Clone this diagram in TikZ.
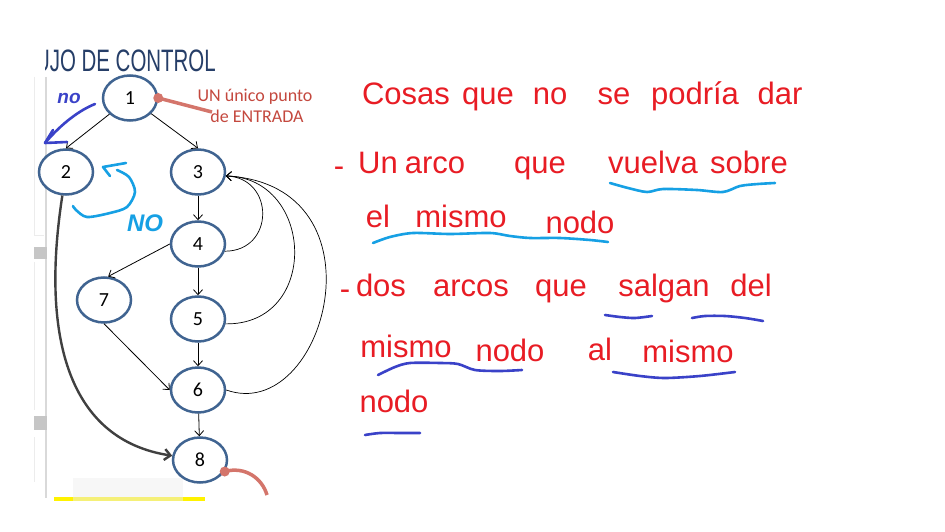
\documentclass[tikz,border=0pt]{standalone}
\usepackage{fontspec}
\setmainfont{Carlito}
\newfontfamily\handfont{Liberation Sans}
\newfontfamily\titlefont{Liberation Sans}
\usetikzlibrary{arrows.meta,shapes.geometric}
\definecolor{nodeblue}{RGB}{64,100,145}
\definecolor{pointred}{RGB}{212,117,107}
\definecolor{labelred}{RGB}{196,72,62}
\definecolor{inkred}{RGB}{232,28,36}
\definecolor{inkblue}{RGB}{58,66,200}
\definecolor{inkcyan}{RGB}{22,160,228}
\definecolor{titleblue}{RGB}{38,62,104}
\definecolor{arcgray}{RGB}{64,64,64}
\definecolor{paleyellow}{RGB}{245,240,120}
\begin{document}
\begin{tikzpicture}[x=1pt,y=-1pt,
  flownode/.style={ellipse, draw=nodeblue, line width=2.5pt, minimum width=54pt, minimum height=45pt, inner sep=0pt, fill=white, font=\fontsize{20}{20}\selectfont},
  flowarrow/.style={-{Straight Barb[length=5pt,width=9pt]}, line width=0.8pt, black},
  backarc/.style={flowarrow, line width=0.7pt},
  longarc/.style={-{Straight Barb[length=6pt,width=11pt]}, line width=2.4pt, arcgray},
  pointer/.style={pointred, line width=3.5pt},
  labeltext/.style={text=labelred, anchor=base, inner sep=0pt, font=\fontsize{18}{18}\selectfont},
  redword/.style={text=inkred, anchor=base, inner sep=0pt, font=\handfont\fontsize{31}{31}\selectfont},
  inkline/.style={line width=2.6pt, line cap=round, line join=round},
]
\useasboundingbox (0,0) rectangle (945,532);
\fill[white] (0,0) rectangle (945,532);

% slide pane at the left
\draw[gray!15, line width=0.8pt] (34,77) -- (34,235) -- (44,235);
\draw[gray!15, line width=0.8pt] (34,262) -- (34,410);
\draw[gray!15, line width=0.8pt] (34,437) -- (34,482);
\draw[gray!30, line width=2pt] (46,77) -- (46,498);
\fill[gray!45] (34,247) rectangle (47,259);
\fill[gray!45] (34,416) rectangle (47,430);

% title, cut at the left
\begin{scope}
\clip (45,30) rectangle (300,80);
\node[anchor=base east, inner sep=0pt, text=titleblue] (title) at (216,72)
  {\scalebox{0.66}[1]{\titlefont\fontsize{31}{31}\selectfont FLUJO DE CONTROL}};
\end{scope}

% bottom strip
\fill[gray!6] (73,478) rectangle (183,497);
\fill[yellow] (54,497) rectangle (205,501);
\fill[paleyellow] (73,497) rectangle (183,501);

% nodes
\node[flownode] (n1) at (130,98) {1};
\node[flownode] (n2) at (66,172) {2};
\node[flownode] (n3) at (198,172) {3};
\node[flownode] (n4) at (198,244) {4};
\node[flownode] (n7) at (104,300) {7};
\node[flownode] (n5) at (198,319) {5};
\node[flownode] (n6) at (198,390) {6};
\node[flownode] (n8) at (200,460) {8};

% edges
\draw[flowarrow] (n1) -- (n2.north);
\draw[flowarrow] (n1) -- (n3.north);
\draw[flowarrow] (n3) -- (n4);
\draw[flowarrow] (n4) -- (n5);
\draw[flowarrow] (n5) -- (n6);
\draw[flowarrow] (n6) -- (n8);
\draw[flowarrow] (n4.west) -- (n7.80);
\draw[flowarrow] (n7.south) -- (n6.west);
\draw[backarc] (n4.345) .. controls (275,251) and (275,178) .. (n3.352);
\draw[backarc] (n5.350) .. controls (320,325) and (315,178) .. (n3.352);
\draw[backarc] (n6.east) .. controls (325,425) and (390,185) .. (n3.352);
\draw[longarc] (n2) .. controls (40,340) and (70,440) .. (n8);

% entry label and pointers
\node[labeltext] (lab1) at (255,102) {UN único punto};
\node[labeltext] (lab2) at (257,123) {de ENTRADA};
\coordinate (p1end) at (212,112);
\coordinate (p8end) at (267,495);
\draw[pointer] (n1.east) -- (p1end);
\fill[pointred] (n1.east) circle (5);
\draw[pointer] (n8.335) .. controls (245,466) and (262,478) .. (p8end);
\fill[pointred] (n8.335) circle (5);

% handwritten marks on the graph
\node[text=inkblue, anchor=base, inner sep=0pt, font=\handfont\bfseries\itshape\fontsize{19}{19}\selectfont] (noA) at (69,104) {no};
\draw[inkline, inkblue] (95,104) .. controls (80,110) and (62,123) .. (45,143);
\draw[inkline, inkblue] (53,130) -- (45,143) -- (67,142);
\node[text=inkcyan, anchor=base, inner sep=0pt, font=\handfont\bfseries\itshape\fontsize{24}{24}\selectfont] (noB) at (145,231) {NO};
\draw[inkline, inkcyan] (110,176) -- (103,167) -- (126,163);
\draw[inkline, inkcyan] plot[smooth] coordinates {(117,170) (129,177) (135,192) (127,207) (110,213) (87,217) (76,210) (73,206)};

% handwritten text, line 1
\node[redword] (w1) at (406,105) {Cosas};
\node[redword] (w2) at (488,105) {que};
\node[redword] (w3) at (550,105) {no};
\node[redword] (w4) at (614,105) {se};
\node[redword] (w5) at (695,105) {podría};
\node[redword] (w6) at (780,105) {dar};
% line 2
\node[redword] (w7) at (339,176) {-};
\node[redword] (w8) at (378,173) {Un};
\node[redword] (w9) at (435,173) {arco};
\node[redword] (w10) at (540,173) {que};
\node[redword] (w11) at (653,173) {vuelva};
\node[redword] (w12) at (749,173) {sobre};
% line 3
\node[redword] (w13) at (378,227) {el};
\node[redword] (w14) at (461,227) {mismo};
\node[redword] (w15) at (580,233) {nodo};
% line 4
\node[redword] (w16) at (345,299) {-};
\node[redword] (w17) at (381,296) {dos};
\node[redword] (w18) at (471,296) {arcos};
\node[redword] (w19) at (561,296) {que};
\node[redword] (w20) at (664,296) {salgan};
\node[redword] (w21) at (751,296) {del};
% line 5
\node[redword] (w22) at (406,357) {mismo};
\node[redword] (w23) at (510,361) {nodo};
\node[redword] (w24) at (600,360) {al};
\node[redword] (w25) at (688,362) {mismo};
% line 6
\node[redword] (w26) at (394,412) {nodo};

% underlines
\draw[inkline, inkcyan] plot[smooth] coordinates {(610,183) (628,188) (647,192) (663,189) (697,190) (723,192) (740,186) (758,184) (775,183)};
\draw[inkline, inkcyan] plot[smooth] coordinates {(373,243) (390,237) (413,233) (450,234) (490,233) (510,236) (530,238) (560,238) (590,240) (608,242)};
\draw[inkline, inkblue] plot[smooth] coordinates {(605,315) (620,317) (635,318) (652,316)};
\draw[inkline, inkblue] plot[smooth] coordinates {(692,318) (705,316) (725,316) (745,318) (763,321)};
\draw[inkline, inkblue] plot[smooth] coordinates {(378,375) (395,367) (410,363) (440,363) (458,364) (475,370) (500,371) (522,370)};
\draw[inkline, inkblue] plot[smooth] coordinates {(613,372) (640,376) (665,378) (700,376) (735,372)};
\draw[inkline, inkblue] plot[smooth] coordinates {(365,435) (380,433) (400,433) (420,433)};
\end{tikzpicture}
\end{document}
